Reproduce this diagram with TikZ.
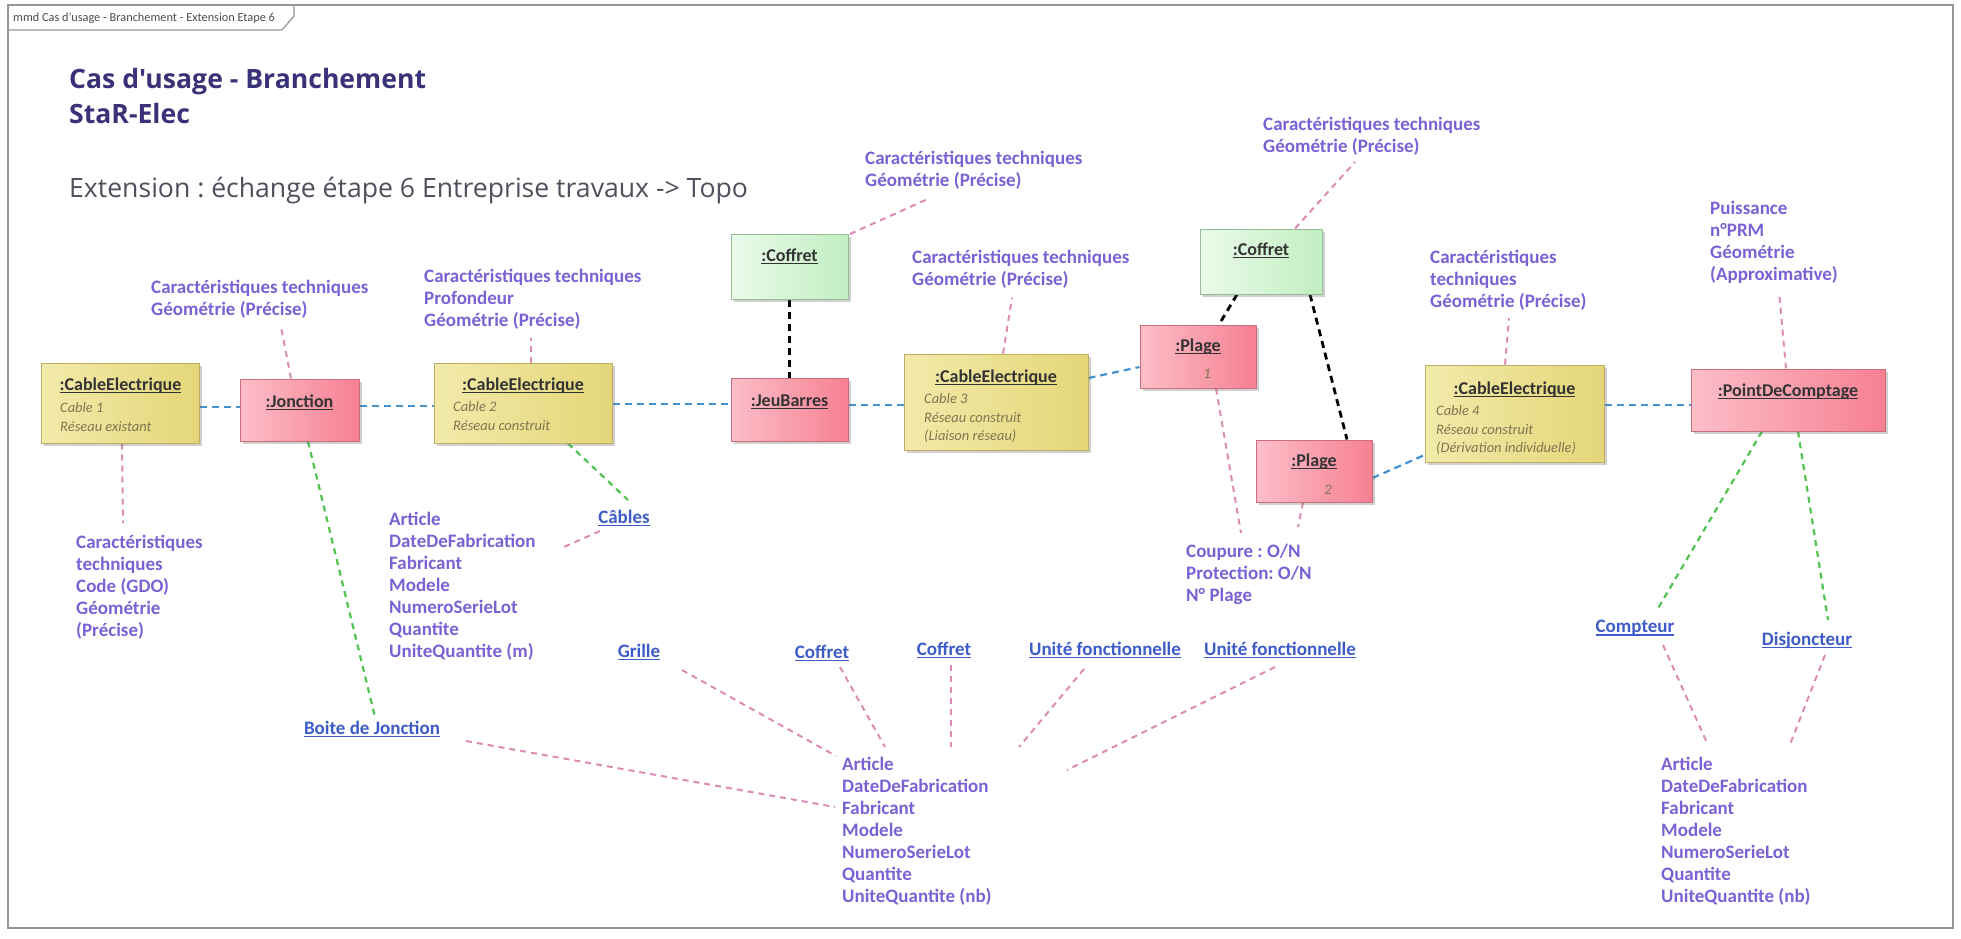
\documentclass[tikz,border=0pt]{standalone}
\usepackage{fontspec}
\setmainfont{Carlito}
\newfontfamily\titlefont{Open Sans}
\usetikzlibrary{shadows}
\frenchspacing
\definecolor{notec}{RGB}{122,98,212}
\definecolor{linkc}{RGB}{62,92,200}
\definecolor{titc}{RGB}{58,50,120}
\definecolor{subc}{RGB}{80,80,92}
\definecolor{ylL}{RGB}{242,234,170}
\definecolor{ylR}{RGB}{228,214,120}
\definecolor{ylB}{RGB}{190,175,100}
\definecolor{pkL}{RGB}{252,190,200}
\definecolor{pkR}{RGB}{246,128,146}
\definecolor{pkB}{RGB}{205,110,125}
\definecolor{gnL}{RGB}{234,251,234}
\definecolor{gnR}{RGB}{194,238,194}
\definecolor{gnB}{RGB}{150,190,150}
\definecolor{bluec}{RGB}{70,145,205}
\definecolor{pinkc}{RGB}{220,140,180}
\definecolor{greenc}{RGB}{80,195,80}
\definecolor{framec}{RGB}{150,150,150}
\definecolor{itc}{RGB}{128,118,80}
\newsavebox\ulb
\newcommand\myul[1]{\sbox\ulb{#1}\rlap{\usebox\ulb}\raisebox{-2.8pt}{\rule{\wd\ulb}{1.1pt}}}
\pgfdeclarelayer{back}
\pgfdeclarelayer{bg}
\pgfsetlayers{back,bg,main}
\tikzset{
  obj/.style={draw, line width=1pt, inner sep=0pt,
    drop shadow={shadow xshift=2.5pt, shadow yshift=-2.5pt, opacity=0.3, fill=black!60}},
  ybox/.style={obj, draw=ylB, left color=ylL, right color=ylR},
  pbox/.style={obj, draw=pkB, left color=pkL, right color=pkR},
  gbox/.style={obj, draw=gnB, left color=gnL, right color=gnR},
  otitle/.style={font=\bfseries\fontsize{18}{20}\selectfont, text=black!80, inner sep=0pt, anchor=base},
  osub/.style={font=\itshape\fontsize{14.5}{18.5}\selectfont, text=itc, align=left, anchor=north west, inner sep=0pt},
  onum/.style={font=\itshape\fontsize{14.5}{18.5}\selectfont, text=itc, inner sep=0pt, anchor=base},
  note/.style={font=\bfseries\fontsize{19}{22}\selectfont, text=notec, align=left, anchor=north west, inner sep=0pt},
  lnk/.style={font=\bfseries\fontsize{19}{22}\selectfont, text=linkc, inner sep=0pt},
  bl/.style={draw=bluec, line width=2.2pt, dash pattern=on 7pt off 5pt},
  bk/.style={draw=black, line width=2.8pt, dash pattern=on 7pt off 5pt},
  gr/.style={draw=greenc, line width=2.2pt, dash pattern=on 6pt off 5pt},
  pk/.style={draw=pinkc, line width=2pt, dash pattern=on 6pt off 5pt}
}
\begin{document}
\frenchspacing
\begin{tikzpicture}[x=1pt,y=-1pt]
\useasboundingbox (0,0) rectangle (1961,939);
\begin{pgfonlayer}{back}
\fill[white] (0,0) rectangle (1961,939);
\end{pgfonlayer}
% frame
\draw[framec, line width=1.5pt] (8,5) rectangle (1953,928);
\draw[framec, line width=1.2pt] (8,30) -- (282,30) -- (294,16) -- (294,5);
\node[anchor=west, font=\fontsize{12.3}{13}\selectfont, text=black!70, inner sep=0pt] (tab) at (13,18) {mmd Cas d'usage - Branchement - Extension Etape 6};
% titles
\node[anchor=north west, inner sep=0pt, align=left, font=\titlefont\bfseries\fontsize{26.6}{35}\selectfont, text=titc] (title) at (69,68) {\rule{0pt}{19pt}Cas d'usage - Branchement\\StaR-Elec};
\node[anchor=base west, inner sep=0pt, font=\titlefont\fontsize{26.6}{30}\selectfont, text=subc] (subtitle) at (69,197) {Extension : échange étape 6 Entreprise travaux -> Topo};

% objects
\node[ybox, minimum width=158pt, minimum height=80pt] (b1) at (120.5,403) {};
\node[otitle] (b1t) at (120.5,390) {\myul{:CableElectrique}};
\node[osub] (b1s) at (60,401.5) {\rule{0pt}{11pt}Cable 1\\Réseau existant};

\node[pbox, minimum width=119pt, minimum height=62pt] (jonc) at (299.5,410) {};
\node[otitle] (jonct) at (299.5,407) {\myul{:Jonction}};

\node[ybox, minimum width=178pt, minimum height=80pt] (b2) at (523,403) {};
\node[otitle] (b2t) at (523,390) {\myul{:CableElectrique}};
\node[osub] (b2s) at (453,400.5) {\rule{0pt}{11pt}Cable 2\\Réseau construit};

\node[gbox, minimum width=117pt, minimum height=65pt] (cof1) at (789.5,267) {};
\node[otitle] (cof1t) at (789.5,261) {\myul{:Coffret}};

\node[pbox, minimum width=117pt, minimum height=63pt] (jb) at (789.5,409.5) {};
\node[otitle] (jbt) at (789.5,406) {\myul{:JeuBarres}};

\node[ybox, minimum width=184pt, minimum height=96pt] (b3) at (996,402) {};
\node[otitle] (b3t) at (996,382) {\myul{:CableElectrique}};
\node[osub] (b3s) at (924,392.5) {\rule{0pt}{11pt}Cable 3\\Réseau construit\\(Liaison réseau)};

\node[gbox, minimum width=122pt, minimum height=65pt] (cof2) at (1261,261.5) {};
\node[otitle] (cof2t) at (1261,255) {\myul{:Coffret}};

\node[pbox, minimum width=116pt, minimum height=63pt] (p1) at (1198,356.5) {};
\node[otitle] (p1t) at (1198,351) {\myul{:Plage}};
\node[onum] (p1n) at (1207,378) {1};

\node[pbox, minimum width=116pt, minimum height=62pt] (p2) at (1314,471) {};
\node[otitle] (p2t) at (1314,466) {\myul{:Plage}};
\node[onum] (p2n) at (1328,494) {2};

\node[ybox, minimum width=179pt, minimum height=97pt] (b4) at (1514.5,413.5) {};
\node[otitle] (b4t) at (1514.5,394) {\myul{:CableElectrique}};
\node[osub] (b4s) at (1436,404.5) {\rule{0pt}{11pt}Cable 4\\Réseau construit\\(Dérivation individuelle)};

\node[pbox, minimum width=194pt, minimum height=62pt] (pdc) at (1788,400) {};
\node[otitle] (pdct) at (1788,396) {\myul{:PointDeComptage}};

% notes
\node[note] (njonc) at (151,278) {\rule{0pt}{15pt}Caractéristiques techniques\\Géométrie (Précise)};
\node[note] (nb2) at (424,267) {\rule{0pt}{15pt}Caractéristiques techniques\\Profondeur\\Géométrie (Précise)};
\node[note] (ncof1) at (865,149) {\rule{0pt}{15pt}Caractéristiques techniques\\Géométrie (Précise)};
\node[note] (nb3) at (912,248) {\rule{0pt}{15pt}Caractéristiques techniques\\Géométrie (Précise)};
\node[note] (ncof2) at (1263,115) {\rule{0pt}{15pt}Caractéristiques techniques\\Géométrie (Précise)};
\node[note] (nb4) at (1430,248) {\rule{0pt}{15pt}Caractéristiques\\techniques\\Géométrie (Précise)};
\node[note] (npdc) at (1710,199) {\rule{0pt}{15pt}Puissance\\n°PRM\\Géométrie\\(Approximative)};
\node[note] (nb1) at (76,533) {\rule{0pt}{15pt}Caractéristiques\\techniques\\Code (GDO)\\Géométrie\\(Précise)};
\node[note] (nart1) at (389,510) {\rule{0pt}{15pt}Article\\DateDeFabrication\\Fabricant\\Modele\\NumeroSerieLot\\Quantite\\UniteQuantite (m)};
\node[note] (nart2) at (842,755) {\rule{0pt}{15pt}Article\\DateDeFabrication\\Fabricant\\Modele\\NumeroSerieLot\\Quantite\\UniteQuantite (nb)};
\node[note] (nplage) at (1186,542) {\rule{0pt}{15pt}Coupure : O/N\\Protection: O/N\\N° Plage};
\node[note] (nart3) at (1661,755) {\rule{0pt}{15pt}Article\\DateDeFabrication\\Fabricant\\Modele\\NumeroSerieLot\\Quantite\\UniteQuantite (nb)};

% links
\node[lnk] (cables) at (624,518) {\myul{Câbles}};
\node[lnk] (grille) at (639,652) {\myul{Grille}};
\node[lnk] (coffa) at (822,653) {\myul{Coffret}};
\node[lnk] (coffb) at (944,650) {\myul{Coffret}};
\node[lnk] (uf1) at (1105,650) {\myul{Unité fonctionnelle}};
\node[lnk] (uf2) at (1280,650) {\myul{Unité fonctionnelle}};
\node[lnk] (bdj) at (372,729) {\myul{Boite de Jonction}};
\node[lnk] (cpt) at (1635,628) {\myul{Compteur}};
\node[lnk] (disj) at (1807,640) {\myul{Disjoncteur}};

% free ends of connectors
\coordinate (e1) at (281,327);
\coordinate (e2) at (531,338);
\coordinate (e3) at (930,198);
\coordinate (e4) at (1012,298);
\coordinate (e5) at (1355,162);
\coordinate (e6) at (1509,318);
\coordinate (e7) at (1779,292);
\coordinate (e8) at (123,523);
\coordinate (e9) at (1241,533);
\coordinate (e10) at (1298,527);
\coordinate (f1a) at (600,531); \coordinate (f1b) at (564,547);
\coordinate (f2a) at (682,670); \coordinate (f2b) at (836,756);
\coordinate (f3a) at (840,667); \coordinate (f3b) at (885,747);
\coordinate (f4a) at (951,665); \coordinate (f4b) at (951,747);
\coordinate (f5a) at (1084,669); \coordinate (f5b) at (1019,747);
\coordinate (f6a) at (1275,667); \coordinate (f6b) at (1067,770);
\coordinate (f7a) at (466,741); \coordinate (f7b) at (835,807);
\coordinate (f8a) at (1663,645); \coordinate (f8b) at (1708,745);
\coordinate (f9a) at (1825,655); \coordinate (f9b) at (1789,747);
\coordinate (g1) at (375,717);
\coordinate (g2) at (628,500);
\coordinate (g3) at (1657,610);
\coordinate (g4) at (1828,620);

\begin{pgfonlayer}{bg}
% blue links between objects
\draw[bl] (b1.east |- 0,407) -- (jonc.west |- 0,407);
\draw[bl] (jonc.east |- 0,406) -- (b2.west |- 0,406);
\draw[bl] (b2.east |- 0,404) -- (jb.west |- 0,404);
\draw[bl] (jb.east |- 0,405) -- (b3.west |- 0,405);
\draw[bl] (b3.east |- 0,378) -- (p1.west |- 0,367);
\draw[bl] (p2.east |- 0,478) -- (b4.west |- 0,455);
\draw[bl] (b4.east |- 0,405) -- (pdc.west |- 0,405);
% black links
\draw[bk] (cof1.south) -- (jb.north);
\draw[bk] (cof2.south -| 1237,0) -- (p1.north -| 1219,0);
\draw[bk] (cof2.south -| 1310,0) -- (p2.north -| 1347,0);
% green links
\draw[gr] (jonc.south -| 308,0) -- (g1);
\draw[gr] (b2.south -| 568,0) -- (g2);
\draw[gr] (pdc.south -| 1762,0) -- (g3);
\draw[gr] (pdc.south -| 1798,0) -- (g4);
% note links
\draw[pk] (jonc.north -| 291,0) -- (e1);
\draw[pk] (b2.north -| 531,0) -- (e2);
\draw[pk] (cof1.north -| 850,0) -- (e3);
\draw[pk] (b3.north -| 1003,0) -- (e4);
\draw[pk] (cof2.north -| 1295,0) -- (e5);
\draw[pk] (b4.north -| 1505,0) -- (e6);
\draw[pk] (pdc.north -| 1786,0) -- (e7);
\draw[pk] (b1.south -| 122,0) -- (e8);
\draw[pk] (p1.south -| 1216,0) -- (e9);
\draw[pk] (p2.south -| 1303,0) -- (e10);
\draw[pk] (f1a) -- (f1b);
\draw[pk] (f2a) -- (f2b);
\draw[pk] (f3a) -- (f3b);
\draw[pk] (f4a) -- (f4b);
\draw[pk] (f5a) -- (f5b);
\draw[pk] (f6a) -- (f6b);
\draw[pk] (f7a) -- (f7b);
\draw[pk] (f8a) -- (f8b);
\draw[pk] (f9a) -- (f9b);
\end{pgfonlayer}
\end{tikzpicture}
\end{document}
